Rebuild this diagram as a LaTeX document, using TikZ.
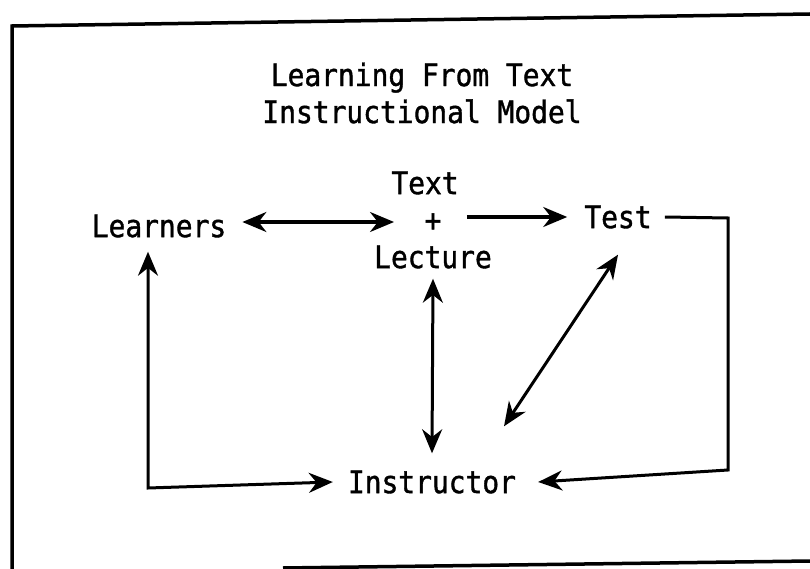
\documentclass[tikz,border=0pt]{standalone}
\usepackage{fontspec}
\newfontfamily\typefont[FakeStretch=0.9,FakeBold=1.2]{DejaVu Sans Mono}
\usetikzlibrary{arrows.meta}

\begin{document}
\begin{tikzpicture}[x=1bp,y=-1bp,
    tnode/.style={font=\typefont\fontsize{31bp}{37bp}\selectfont, inner sep=0pt, align=center},
    link/.style={line width=3bp, -{Stealth[length=24bp,width=20bp]}},
    twoway/.style={line width=3bp, {Stealth[length=24bp,width=20bp]}-{Stealth[length=24bp,width=20bp]}}]

    \useasboundingbox (0,0) rectangle (810,569);

    % frame
    \draw[line width=3.5bp] (12,569) -- (12,26) -- (810,14);
    \draw[line width=3.5bp] (283,568) -- (810,561);

    \node[tnode] (title) at (422,93) {Learning From Text\\Instructional Model};

    \node[tnode] (learners) at (159,226) {Learners};
    \node[tnode] (media) at (433,220) {Text\hspace*{16bp}\\+\\Lecture};
    \node[tnode] (test) at (618,217) {Test};
    \node[tnode] (instructor) at (432,482) {Instructor};

    \draw[twoway] ([xshift=16bp,yshift=4bp]learners.east) -- ([xshift=20bp,yshift=4bp]media.west |- learners.east);
    \draw[link] ([xshift=-25bp]media.east |- test.west) -- ([xshift=-17bp]test.west);

    % Test round the right side to the Instructor
    \coordinate (upper) at (728,218);
    \coordinate (lower) at (728,470);
    \draw[link] ([xshift=13bp]test.east) -- (upper) -- (lower) -- ([xshift=22bp]instructor.east);

    % Learners round the left side to the Instructor
    \coordinate (bend) at (148,488);
    \draw[twoway] ([yshift=-14bp]learners.south -| bend) -- (bend) -- ([xshift=-15bp]instructor.west);

    \draw[twoway] ([yshift=-10bp]media.south) -- ([yshift=17bp]instructor.north);
    \draw[twoway] ([shift={(0,26)}]test.south) -- ([shift={(72,-44)}]instructor.north);
\end{tikzpicture}
\end{document}
